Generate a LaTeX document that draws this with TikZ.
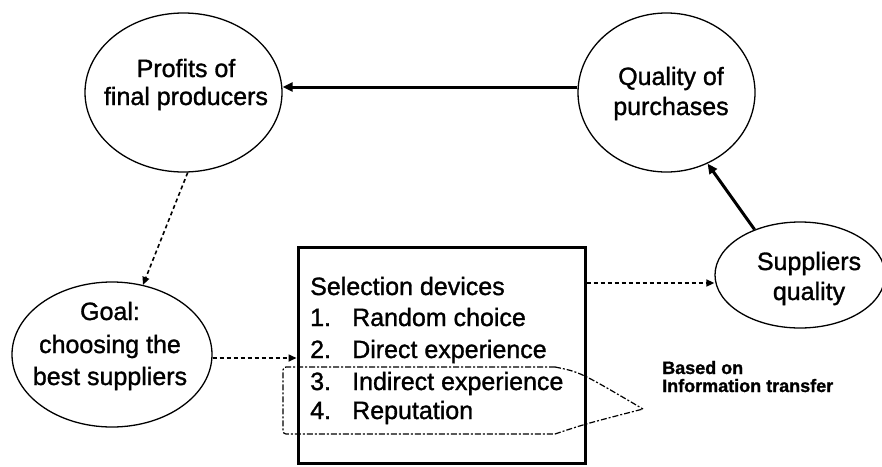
\documentclass[tikz,border=0pt]{standalone}
\usepackage{fontspec}
\setmainfont{Liberation Sans}[FakeBold=1.2]
\usetikzlibrary{shapes.geometric,arrows.meta}
\begin{document}
\begin{tikzpicture}[x=1pt,y=-1pt,
  bubble/.style={draw,ellipse,line width=1.3pt,inner sep=0pt},
  txt/.style={anchor=base,inner sep=0pt,font=\fontsize{25}{30}\selectfont\addfontfeatures{FakeBold=1.2}},
  ltxt/.style={anchor=base west,inner sep=0pt,font=\fontsize{25}{30}\selectfont\addfontfeatures{FakeBold=1.2}},
  strong/.style={line width=3pt,-{Triangle[length=10pt,width=9pt]}},
  weak/.style={line width=1.6pt,dash pattern=on 4pt off 3pt,-{Triangle[length=8pt,width=7pt]}},
  bracket/.style={line width=1.2pt,dash pattern=on 6pt off 2pt on 2pt off 2pt}]
\useasboundingbox (0,0) rectangle (882,466);
% ellipses
\node[bubble,minimum width=197pt,minimum height=159pt] (profits) at (183.5,92.5) {};
\node[bubble,minimum width=177pt,minimum height=159pt] (quality) at (666.5,92.5) {};
\node[bubble,minimum width=170pt,minimum height=106pt] (suppliers) at (800,275) {};
\node[bubble,minimum width=200pt,minimum height=145pt] (goal) at (112,354.5) {};
% box
\node[draw,line width=3pt,minimum width=287pt,minimum height=216pt,inner sep=0pt] (box) at (441.5,355) {};
% ellipse texts
\node[txt] (p1) at (186,77) {Profits of};
\node[txt] (p2) at (186,105) {final producers};
\node[txt] (q1) at (671,85) {Quality of};
\node[txt] (q2) at (671,115) {purchases};
\node[txt] (s1) at (809,270) {Suppliers};
\node[txt] (s2) at (809,300) {quality};
\node[txt] (g1) at (110,320) {Goal:};
\node[txt] (g2) at (110,353) {choosing the};
\node[txt] (g3) at (110,385) {best suppliers};
% box texts
\node[ltxt] (t0) at (310,295) {Selection devices};
\node[ltxt] (n1) at (310,326) {1.};
\node[ltxt] (i1) at (352,326) {Random choice};
\node[ltxt] (n2) at (310,358) {2.};
\node[ltxt] (i2) at (352,358) {Direct experience};
\node[ltxt] (n3) at (310,390) {3.};
\node[ltxt] (i3) at (352,390) {Indirect experience};
\node[ltxt] (n4) at (310,419) {4.};
\node[ltxt] (i4) at (352,419) {Reputation};
% bracket
\draw[bracket,rounded corners=3pt] (555,367) -- (283,367) -- (283,434) -- (555,434);
\draw[bracket] (555,367) .. controls (580,372) .. (643,409);
\draw[bracket] (555,434) .. controls (585,424) .. (643,409);
\node[anchor=base west,inner sep=0pt,align=left,font=\fontsize{18}{18}\selectfont\bfseries] (info) at (662,392) {Based on\\Information transfer};
% connectors
\draw[strong] ([yshift=5.5pt]quality.west) -- ([yshift=5.5pt]profits.east);
\draw[strong] (suppliers.135) -- (quality.-60);
\draw[weak] (profits.-87.5) -- (goal.66.6);
\coordinate (g2b) at ([yshift=-3.5pt]goal.east);
\draw[weak] (g2b) -- (g2b -| box.west);
\coordinate (b2s) at ([yshift=-8pt]box.east |- suppliers.center);
\draw[weak] (b2s) -- (b2s -| suppliers.west);
\end{tikzpicture}
\end{document}
